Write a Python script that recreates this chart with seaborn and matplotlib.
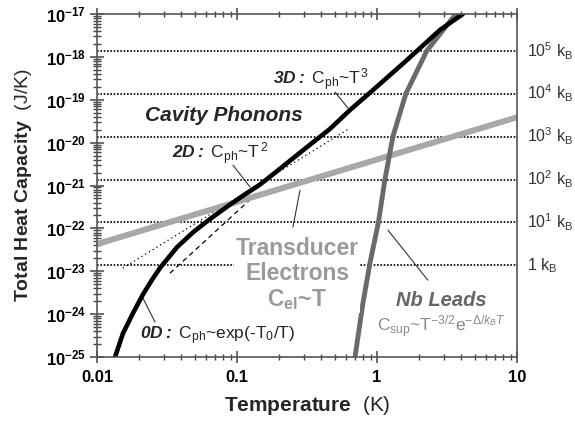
import matplotlib
matplotlib.use('Agg')
import matplotlib.pyplot as plt
import seaborn as sns

# Cavity phonons
T_ph = [0.01345, 0.01534, 0.01807, 0.02132, 0.0247, 0.0282, 0.0373, 0.0485, 0.0641,
        0.0849, 0.1104, 0.1459, 0.1807, 0.316, 0.4615, 0.641, 0.936, 1.638, 2.818, 4.11]
C_ph = [1.0e-25, 3.58e-25, 1.05e-24, 2.9e-24, 6.3e-24, 1.2e-23, 3.64e-23, 8.1e-23, 1.65e-22,
        3.2e-22, 5.8e-22, 1.05e-21, 1.82e-21, 7.85e-21, 2.09e-20, 5.74e-20, 1.68e-19, 8.43e-19,
        4.24e-18, 1.0e-17]

# Transducer electrons, C_el ~ T
T_el = [0.01, 10]
C_el = [4.3e-23, 3.9e-20]

# Nb leads (superconducting)
T_nb = [0.697, 0.794, 0.891, 1.025, 1.141, 1.301, 1.611, 2.275, 3.66]
C_nb = [1.0e-25, 1.8e-24, 1.54e-23, 1.4e-22, 1.4e-21, 1.4e-20, 1.4e-19, 1.4e-18, 1.0e-17]

# asymptotes: 2D (T^2, dotted) and 3D (T^3, dashed)
T_2d = [0.0153, 0.641]
C_2d = [1.18e-23, 2.18e-20]
T_3d = [0.0332, 0.1345]
C_3d = [9.0e-24, 5.96e-22]

K_B = 1.380649e-23
kb_mult = [1, 1e1, 1e2, 1e3, 1e4, 1e5]
kb_labels = ['1 k$_{\\rm B}$', '10$^1$ k$_{\\rm B}$', '10$^2$ k$_{\\rm B}$',
             '10$^3$ k$_{\\rm B}$', '10$^4$ k$_{\\rm B}$', '10$^5$ k$_{\\rm B}$']

y_ticks = [1e-25, 1e-24, 1e-23, 1e-22, 1e-21, 1e-20, 1e-19, 1e-18, 1e-17]
y_tick_labels = [r'$\mathbf{10^{-%d}}$' % n for n in range(25, 16, -1)]
x_ticks = [0.01, 0.1, 1, 10]
x_tick_labels = ['0.01', '0.1', '1', '10']

sns.set_style('ticks')
plt.rcParams.update({
    'font.family': ['Liberation Sans', 'DejaVu Sans'],
    'mathtext.fontset': 'custom',
    'mathtext.rm': 'Liberation Sans',
    'mathtext.it': 'Liberation Sans:italic',
    'mathtext.bf': 'Liberation Sans:bold',
    'mathtext.bfit': 'Liberation Sans:italic:bold',
    'xtick.direction': 'inout', 'ytick.direction': 'inout',
    'xtick.bottom': True, 'xtick.top': True, 'ytick.left': True, 'ytick.right': False,
    'xtick.major.size': 9, 'xtick.minor.size': 5, 'ytick.major.size': 10, 'ytick.minor.size': 6,
    'xtick.major.width': 1.1, 'xtick.minor.width': 1.0,
    'ytick.major.width': 1.1, 'ytick.minor.width': 1.0,
    'xtick.color': '#444444', 'ytick.color': '#444444',
    'xtick.labelcolor': 'black', 'ytick.labelcolor': 'black',
    'xtick.labelsize': 12, 'ytick.labelsize': 12,
    'xtick.major.pad': 5, 'ytick.major.pad': 3,
    'axes.edgecolor': '#555555', 'axes.linewidth': 1.2,
})

fig, ax = plt.subplots(figsize=(5.75, 4.22), dpi=100)
fig.subplots_adjust(left=0.1687, right=0.899, top=0.9668, bottom=0.154)
ax.set_xscale('log')
ax.set_yscale('log')

# k_B reference lines
for m in kb_mult:
    ax.axhline(K_B * m, color='black', ls=(0, (1, 1)), lw=1.2, zorder=1)

sns.lineplot(x=T_2d, y=C_2d, ax=ax, color='black', lw=0.9, ls=(0, (1, 2.5)), estimator=None)
sns.lineplot(x=T_3d, y=C_3d, ax=ax, color='black', lw=0.9, ls=(0, (4, 3)), estimator=None)
sns.lineplot(x=T_el, y=C_el, ax=ax, color='#a8a8a8', lw=4.3, estimator=None)
sns.lineplot(x=T_nb, y=C_nb, ax=ax, color='#6a6a6a', lw=3.5, estimator=None, sort=False)
sns.lineplot(x=T_ph, y=C_ph, ax=ax, color='black', lw=3.3, estimator=None, sort=False)

ax.set_xlim(0.01, 10)
ax.set_ylim(1e-25, 1e-17)
ax.set_xticks(x_ticks, x_tick_labels, fontweight='bold')
ax.set_yticks(y_ticks, y_tick_labels)

ax.set_xlabel(r'$\mathbf{Temperature}$  (K)', fontsize=15, labelpad=6)
ax.set_ylabel(r'$\mathbf{Total\ Heat\ Capacity}$  (J/K)', fontsize=14, labelpad=8)

# right-hand k_B labels
for m, lab in zip(kb_mult, kb_labels):
    ax.text(1.025, K_B * m, lab, transform=ax.get_yaxis_transform(), ha='left', va='center',
            fontsize=11.5, color='#333333')

# annotations
line_kw = dict(arrowstyle='-', color='#333333', lw=0.8, shrinkA=0, shrinkB=0)
ax.text(0.181, 2.88e-19, r'$\mathbfit{3D:}$ C$_{\rm ph}$~T$^{\,3}$', fontsize=12.5, va='center')
ax.annotate('', xy=(0.621, 6.4e-20), xytext=(0.501, 1.51e-19), arrowprops=line_kw)
ax.text(0.0807, 4.4e-20, 'Cavity Phonons', fontsize=15, fontweight='bold', fontstyle='italic',
        ha='center', va='center')
ax.text(0.0343, 5.4e-21, r'$\mathbfit{2D:}$ C$_{\rm ph}$~T$^{\,2}$', fontsize=12.5, va='center')
ax.annotate('', xy=(0.124, 9.2e-22), xytext=(0.0936, 2.99e-21), arrowprops=line_kw)
ax.text(0.27, 8.5e-24, 'Transducer\nElectrons\nC$_{\\mathbf{el}}$~T', fontsize=16.5,
        fontweight='bold', color='#9a9a9a', ha='center', va='center', linespacing=1.1,
        bbox=dict(facecolor='white', edgecolor='none', pad=1), zorder=2)
ax.annotate('', xy=(0.251, 1.07e-22), xytext=(0.282, 7.8e-22), arrowprops=line_kw)
ax.text(0.0203, 3.2e-25, r'$\mathbfit{0D:}$ C$_{\rm ph}$~exp(-T$_0$/T)', fontsize=12.5,
        va='center')
ax.annotate('', xy=(0.026, 6.5e-25), xytext=(0.0213, 2.35e-24), arrowprops=line_kw)
ax.text(2.87, 2.1e-24, 'Nb Leads', fontsize=14.5, fontweight='bold', fontstyle='italic',
        color='#666666', ha='center', va='center')
ax.text(2.89, 5.2e-25, r'C$_{\rm sup}$~T$^{-3/2}$e$^{-\Delta/k_BT}$', fontsize=12.5,
        color='#8a8a8a', ha='center', va='center')
ax.annotate('', xy=(2.31, 6.2e-24), xytext=(1.198, 9.1e-23), arrowprops=line_kw)

fig.savefig('out.png', dpi=100)
